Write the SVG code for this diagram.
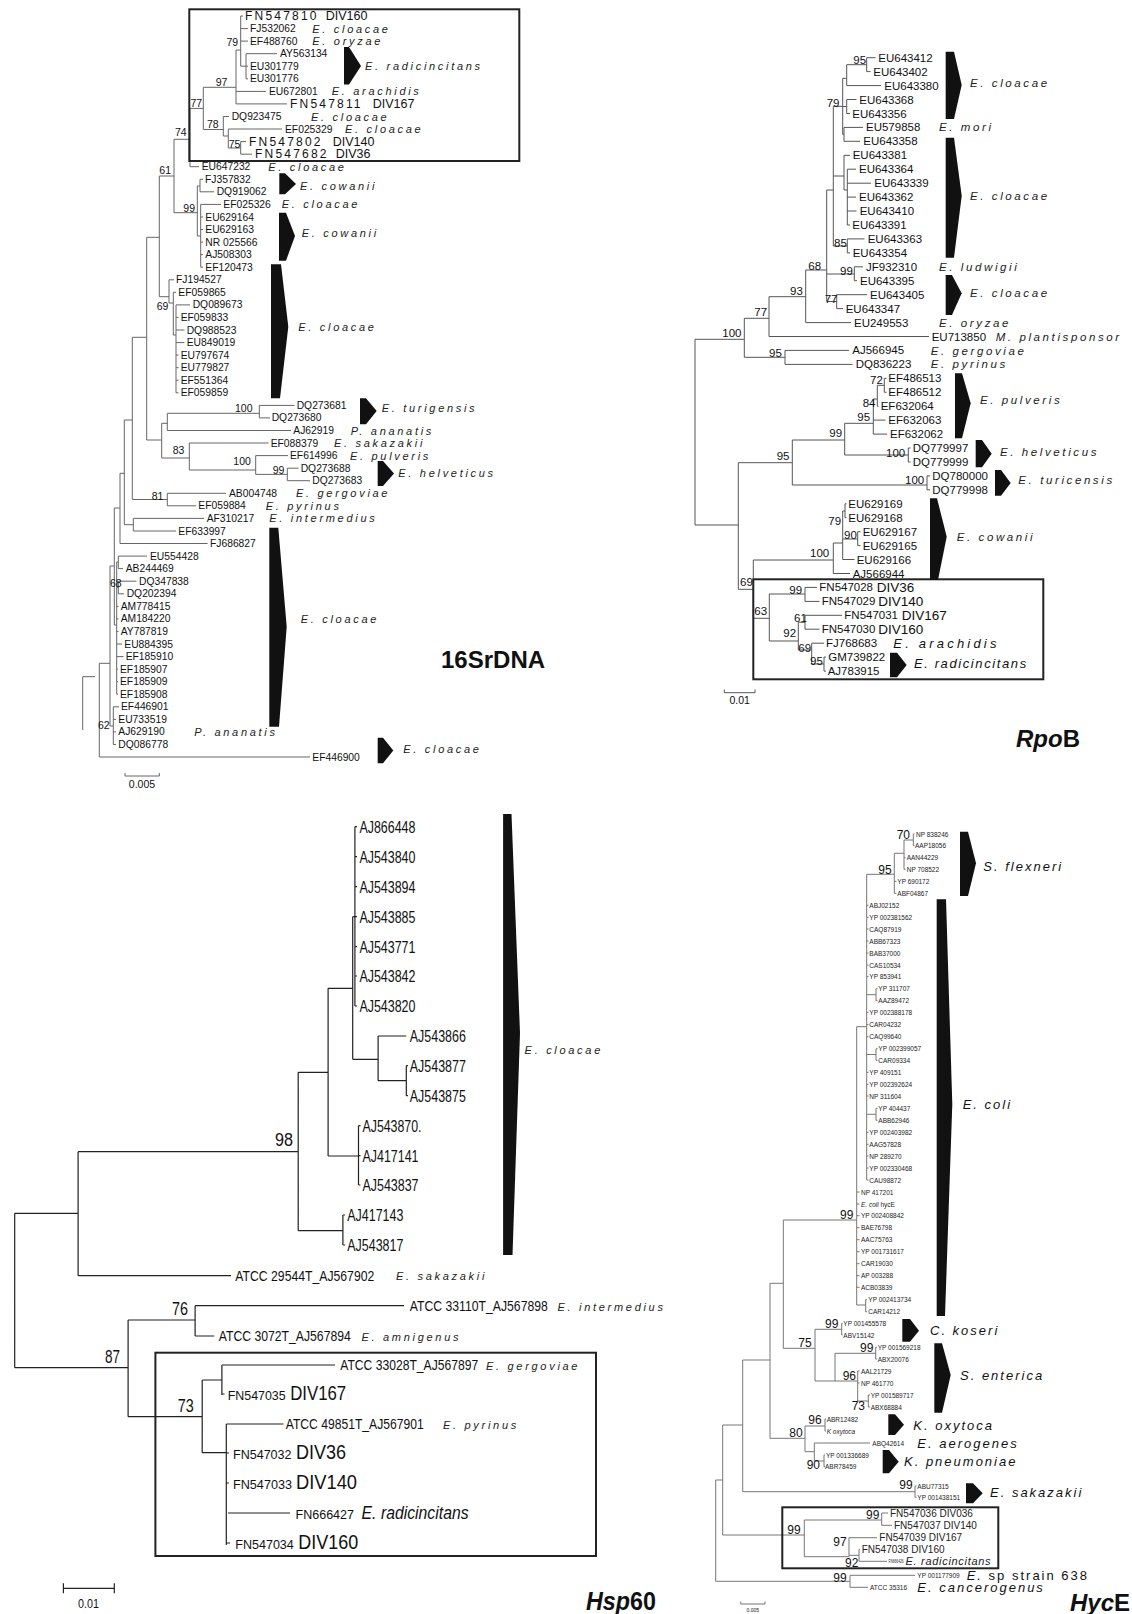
<svg xmlns="http://www.w3.org/2000/svg" width="1132" height="1614" viewBox="0 0 1132 1614">
<style>
text{font-family:"Liberation Sans",Arial,sans-serif;fill:#111}
.c{dominant-baseline:central}
.s16{font-size:10.3px}
.fn{font-size:12px;letter-spacing:2.2px}
.dv{font-size:12.5px}
.sp{font-size:11px;font-style:italic;letter-spacing:2.7px;fill:#222}
.bs{font-size:10.5px}
.sr{font-size:11.5px}
.spr{font-size:11.5px;font-style:italic;letter-spacing:2.6px;fill:#222}
.dvr{font-size:13.5px}
.h{font-size:16px}
.h15{font-size:15px}
.h13{font-size:13px}
.h21{font-size:21px}
.hb{font-size:18px}
.hx{font-size:6.5px;fill:#222}
.spx{font-size:13px;font-style:italic;letter-spacing:2px}
.bx{font-size:12px}
.dx{font-size:10px;fill:#222}
.title{font-size:24px;font-weight:bold}
.t1{fill:none;stroke:#666;stroke-width:1}
.t2{fill:none;stroke:#555;stroke-width:1}
.t3{fill:none;stroke:#222;stroke-width:1.2}
.t4{fill:none;stroke:#777;stroke-width:1}
.box{fill:none;stroke:#222;stroke-width:2}
.w{fill:#111}
</style>

<!-- ================= CONNECTORS ================= -->
<g id="connectors">
<path id="c-16s" class="t1" d="M240.7,16V66.2M240.7,16H243M240.7,28.6H248M240.7,41.1H248
M240.7,66.2H246M246,53.7V78.8M246,53.7H277M246,66.2H248M246,78.8H248
M236,50H240.7M236,50V103.9M236,91.4H266M236,103.9H287
M203.3,87.3V129.5M203.3,87.3H236
M203.3,129.5H223.3M223.3,116.5V136M223.3,116.5H229
M223.3,136H228.3M228.3,129V148M228.3,129H282
M228.3,148H240.7M240.7,141.6V154.2M240.7,141.6H246M240.7,154.2H252
M190,108.4V166.7M190,108.4H203.3M190,166.7H199
M174,139.3V212.7M174,139.3H190
M174,212.7H197.3M197.3,186V236
M197.3,186H200M200,179.3V191.8M200,179.3H203M200,191.8H214
M197.3,236H200.7M200.7,204.4V267.2M200.7,204.4H221M200.7,217H203M200.7,229.5H203M200.7,242.1H203M200.7,254.6H203M200.7,267.2H203
M159.3,176V296.7M159.3,176H174
M159.3,296.7H169M169,279.8V303M169,279.8H174
M169,303H173.3M173.3,292.3V335M173.3,292.3H176
M173.3,335H176M176,304.9V392.8M176,304.9H190M176,317.4H178.5M176,330H184.5M176,342.6H184.5M176,355.1H178.5M176,367.7H178.5M176,380.2H178.5M176,392.8H178.5
M146.7,237.3V440M146.7,237.3H159.3
M146.7,440H161.7M161.7,423.3V458
M161.7,423.3H167.3M167.3,413.3V430.5M167.3,430.5H291
M167.3,413.3H259.3M259.3,405.4V417.9M259.3,405.4H294.5M259.3,417.9H270
M161.7,458H189.3M189.3,443V470M189.3,443H268.5
M189.3,470H255.7M255.7,455.6V474.4M255.7,455.6H288
M255.7,474.4H287.3M287.3,468.2V480.7M287.3,468.2H298.5M287.3,480.7H310
M132.3,337.3V499.5M132.3,337.3H146.7
M132.3,499.5H167.3M167.3,493.3V505.8M167.3,493.3H226M167.3,505.8H196
M124.3,420V524.7M124.3,420H132.3
M124.3,524.7H133.3M133.3,518.4V531M133.3,518.4H204M133.3,531H176
M120,473.3V543.5M120,473.3H124.3M120,543.5H207.5
M114.3,508V625M114.3,508H120
M114.3,625H116.7M116.7,562V694.2
M116.7,562H118.3M118.3,556.1V568.6M118.3,556.1H147M118.3,568.6H123
M116.7,587.5H118.3M118.3,581.2V593.8M118.3,581.2H136.5M118.3,593.8H124
M116.7,606.3H118.5M116.7,618.9H118.5M116.7,631.4H118.5M116.7,644H122M116.7,656.6H123.5M116.7,669.1H118M116.7,681.7H118M116.7,694.2H118
M110,566V726M110,566H114.3
M110,726H113.3M113.3,706.8V744.5M113.3,706.8H119M113.3,719.4H116M113.3,731.9H116M113.3,744.5H116
M99.3,663.3V757M99.3,663.3H110M99.3,757H310
M95,676.7H82.7V730"/>

<path id="c-rpob" class="t2" d="M695,339.3V525M695,339.3H744.3M695,525H738.3
M744.3,318.3V357.3M744.3,318.3H769M744.3,357.3H785
M769,296.7V336.5M769,296.7H805.7M769,336.5H929
M805.7,270V322.6M805.7,270H826.7M805.7,322.6H851
M826.7,190V301.5M826.7,190H833.3M826.7,274H854.3M826.7,301.5H836.7
M854.3,266.8V280.7M854.3,266.8H863M854.3,280.7H857
M836.7,294.7V308.6M836.7,294.7H867M836.7,308.6H843
M833.3,106.3V246M833.3,106.3H842.7M833.3,176H844M833.3,246H847.3
M842.7,78.3V134.3M842.7,78.3H846.7M842.7,106.5H846.7M842.7,134.3H844
M846.7,64.7V85.6M846.7,64.7H866.7M846.7,85.6H881
M866.7,57.7V71.6M866.7,57.7H875.5M866.7,71.6H870.5
M846.7,99.5V113.5M846.7,99.5H856.5M846.7,113.5H850
M844,127.4V141.3M844,127.4H863M844,141.3H860
M844,155.3V190M844,155.3H850M844,190H847.3
M847.3,169.2V225M847.3,169.2H856M847.3,183.2H871M847.3,197.1H856M847.3,211H856.5M847.3,225H850
M847.3,238.9V252.9M847.3,238.9H864.5M847.3,252.9H850
M785,350.4V364.4M785,350.4H849M785,364.4H852.5
M738.3,462.7V589.3M738.3,462.7H792.3M738.3,589.3H753.3
M792.3,440V485M792.3,440H844.7M792.3,485H927
M844.7,423.3V455M844.7,423.3H873.3M844.7,455H908.3
M873.3,399V434.1M873.3,399H877.3M873.3,420.1H885.5M873.3,434.1H887
M877.3,385.3V406.2M877.3,385.3H884.3M877.3,406.2H878.5
M884.3,378.3V392.3M884.3,378.3H886.5M884.3,392.3H886.5
M908.3,448V462M908.3,448H910.5M908.3,462H910.5
M927,475.9V489.8M927,475.9H930M927,489.8H930
M753.3,560V618.3M753.3,560H833.3M753.3,618.3H769.3
M833.3,543V573.5M833.3,543H842.7M833.3,573.5H850
M842.7,511V559.5M842.7,511H845M842.7,539H857.7M842.7,559.5H854.5
M845,503.8V517.7M845,503.8H846.5M845,517.7H846.5
M857.7,531.7V545.6M857.7,531.7H860.5M857.7,545.6H860.5
M769.3,594V641M769.3,594H805M769.3,641H798.3
M805,587.4V601.4M805,587.4H817M805,601.4H819.5
M798.3,622.3V650M798.3,622.3H805M798.3,650H811.7
M805,615.3V629.2M805,615.3H842M805,629.2H819.5
M811.7,643.2V664M811.7,643.2H824M811.7,664H824
M824,657.1V671.1M824,657.1H826M824,671.1H826"/>

<path id="c-hsp60" class="t3" d="M14.7,1213.3V1367.7M14.7,1213.3H78.1M14.7,1367.7H128.1
M78.1,1151.7V1275.7M78.1,1151.7H298.2M78.1,1275.7H231
M298.2,1072.3V1230.7M298.2,1072.3H328.1M298.2,1230.7H342.9
M328.1,988.3V1156M328.1,988.3H352.7M328.1,1156H358.5
M352.7,916.7V1059.3M352.7,916.7H354.9M352.7,1059.3H378.1
M354.9,826.7V1006M354.9,826.7H357M354.9,856.7H357M354.9,886.7H357M354.9,916.7H357M354.9,946.7H357M354.9,976H357M354.9,1006H357
M378.1,1036V1080.7M378.1,1036H406.3M378.1,1080.7H406.3
M406.3,1065.7V1095.7M406.3,1065.7H408M406.3,1095.7H408
M358.5,1125.7V1185M358.5,1125.7H360.5M358.5,1155.7H360.5M358.5,1185H360.5
M342.9,1215V1245M342.9,1215H345M342.9,1245H345
M128.1,1320V1416.7M128.1,1320H195.1M128.1,1416.7H202.2
M195.1,1305.7V1336M195.1,1305.7H404M195.1,1336H214.3
M202.2,1380V1452.7M202.2,1380H221.9M202.2,1452.7H226.3
M221.9,1365V1395M221.9,1365H335M221.9,1394H224.5
M226.3,1424V1545M226.3,1424H283.5M226.3,1453H229M226.3,1483H229M228,1513H290M226.3,1543H230"/>

<path id="c-hyce" class="t4" d="M715.7,1480V1581.3M715.7,1480H722.7M715.7,1581.3H850
M850,1575.3V1587.3M850,1575.3H915M850,1587.3H868
M722.7,1425V1535M722.7,1425H742.7M722.7,1535H804.3
M742.7,1360V1491.7M742.7,1360H770M742.7,1491.7H915
M915,1486V1497.3M915,1486H916.5M915,1497.3H916.5
M770,1283.3V1438.3M770,1283.3H783.3M770,1438.3H805
M783.3,1220V1348.3M783.3,1220H856.7M783.3,1348.3H815
M856.7,1026.7V1305M856.7,1026.7H866.7M856.7,1192H859.5M856.7,1204H859.5M856.7,1215.7H859.5M856.7,1227.7H859.5M856.7,1239.7H859.5M856.7,1251.7H859.5M856.7,1263.7H859.5M856.7,1275.7H859.5M856.7,1287.3H859.5M856.7,1305H865.7
M865.7,1299.7V1311.7M865.7,1299.7H867M865.7,1311.7H867
M866.7,874.3V1180M866.7,874.3H894.3
M866.7,905.3H868.5M866.7,917.3H868.5M866.7,929H868.5M866.7,941H868.5M866.7,953H868.5M866.7,965H868.5M866.7,976.7H868.5
M866.7,994.7H876M876,988.7V1000.7M876,988.7H877.5M876,1000.7H877.5
M866.7,1012.3H868.5M866.7,1024.7H868.5M866.7,1036.7H868.5
M866.7,1054.5H876M876,1048.7V1060.3M876,1048.7H877.5M876,1060.3H877.5
M866.7,1072.3H868.5M866.7,1084.3H868.5M866.7,1096H868.5
M866.7,1114.3H876M876,1108.3V1120.3M876,1108.3H877.5M876,1120.3H877.5
M866.7,1132.3H868.5M866.7,1144.3H868.5M866.7,1156H868.5M866.7,1168H868.5M866.7,1180H868.5
M894.3,853.3V893.3M894.3,853.3H904M894.3,881.3H896.5M894.3,893.3H896.5
M904,840V869.3M904,840H913.3M904,857.7H905.5M904,869.3H905.5
M913.3,834V845.7M913.3,834H914.5M913.3,845.7H914.5
M815,1329.3V1381M815,1329.3H841.7M815,1381H857.7
M841.7,1323.3V1335M841.7,1323.3H842.5M841.7,1335H842.5
M835,1353.3V1381M835,1353.3H875.7
M875.7,1347.3V1359M875.7,1347.3H877M875.7,1359H877
M857.7,1371V1401M857.7,1371H859.5M857.7,1383H859.5M857.7,1401H868.3
M868.3,1395V1407M868.3,1395H870M868.3,1407H870
M805,1426V1451.7M805,1426H825M805,1451.7H814.3
M825,1419V1431M825,1419H826M825,1431H826
M814.3,1443V1461M814.3,1443H870M814.3,1461H824
M824,1455V1466.7M824,1455H825M824,1466.7H825
M804.3,1520V1556.7M804.3,1520H881.7M804.3,1556.7H849
M881.7,1513V1525.3M881.7,1513H888M881.7,1525.3H892
M849,1537.7V1556.7M849,1537.7H877M849,1555.3H859
M859,1549.3V1561.3M859,1549.3H860M859,1561.3H887"/>
</g>

<!-- ================= 16S rDNA ================= -->
<g id="tree-16s">
<rect id="box-16s" class="box" x="189.3" y="9.3" width="330" height="151.7"/>
<g id="wedges-16s" class="w">
<path d="M344,47L349,47L361,66L349,84.5L344,84.5Z"/>
<path d="M279.3,173.3L285,173.3L296,184L285,194.3L279.3,194.3Z"/>
<path d="M279,212.7L286,212.7L295,236L286,260.7L279,260.7Z"/>
<path d="M271,264.3L281,264.3L288.3,326.7L280,398.3L271,398.3Z"/>
<path d="M360,398.3L366,398.3L376.7,411L366,424.3L360,424.3Z"/>
<path d="M377.7,461L383,461L394,473.5L383,486L377.7,486Z"/>
<path d="M269.3,527.7L278.3,527.7L286.7,626.7L279,726.7L269.3,726.7Z"/>
<path d="M377.7,737.7L383,737.7L393.3,750.5L383,763.3L377.7,763.3Z"/>
</g>
<g id="n16-0"><text class="fn c" x="245" y="16">FN547810</text><text class="dv c" x="325.7" y="16">DIV160</text></g>
<g id="n16-1"><text class="s16 c" x="250" y="28.6">FJ532062</text><text class="sp c" x="312.3" y="28.6">E. cloacae</text></g>
<g id="n16-2"><text class="s16 c" x="250" y="41.1">EF488760</text><text class="sp c" x="312.3" y="41.1">E. oryzae</text></g>
<g id="n16-3"><text class="s16 c" x="280" y="53.7">AY563134</text></g>
<g id="n16-4"><text class="s16 c" x="250" y="66.2">EU301779</text></g>
<g id="n16-5"><text class="s16 c" x="250" y="78.8">EU301776</text></g>
<g id="n16-6"><text class="s16 c" x="269" y="91.4">EU672801</text><text class="sp c" x="331.7" y="91.4">E. arachidis</text></g>
<g id="n16-7"><text class="fn c" x="290" y="103.9">FN547811</text><text class="dv c" x="372.7" y="103.9">DIV167</text></g>
<g id="n16-8"><text class="s16 c" x="231.7" y="116.5">DQ923475</text><text class="sp c" x="311" y="116.5">E. cloacae</text></g>
<g id="n16-9"><text class="s16 c" x="285" y="129">EF025329</text><text class="sp c" x="345" y="129">E. cloacae</text></g>
<g id="n16-10"><text class="fn c" x="249" y="141.6">FN547802</text><text class="dv c" x="332.7" y="141.6">DIV140</text></g>
<g id="n16-11"><text class="fn c" x="255" y="154.2">FN547682</text><text class="dv c" x="335.7" y="154.2">DIV36</text></g>
<g id="n16-12"><text class="s16 c" x="201.7" y="166.7">EU647232</text><text class="sp c" x="268.3" y="166.7">E. cloacae</text></g>
<g id="n16-13"><text class="s16 c" x="205" y="179.3">FJ357832</text></g>
<g id="n16-14"><text class="s16 c" x="216.7" y="191.8">DQ919062</text></g>
<g id="n16-15"><text class="s16 c" x="223.3" y="204.4">EF025326</text><text class="sp c" x="281.7" y="204.4">E. cloacae</text></g>
<g id="n16-16"><text class="s16 c" x="205.3" y="217">EU629164</text></g>
<g id="n16-17"><text class="s16 c" x="205.3" y="229.5">EU629163</text></g>
<g id="n16-18"><text class="s16 c" x="205.3" y="242.1">NR 025566</text></g>
<g id="n16-19"><text class="s16 c" x="205.3" y="254.6">AJ508303</text></g>
<g id="n16-20"><text class="s16 c" x="205.3" y="267.2">EF120473</text></g>
<g id="n16-21"><text class="s16 c" x="176" y="279.8">FJ194527</text></g>
<g id="n16-22"><text class="s16 c" x="178.3" y="292.3">EF059865</text></g>
<g id="n16-23"><text class="s16 c" x="192.7" y="304.9">DQ089673</text></g>
<g id="n16-24"><text class="s16 c" x="180.7" y="317.4">EF059833</text></g>
<g id="n16-25"><text class="s16 c" x="186.7" y="330">DQ988523</text></g>
<g id="n16-26"><text class="s16 c" x="186.7" y="342.6">EU849019</text></g>
<g id="n16-27"><text class="s16 c" x="180.7" y="355.1">EU797674</text></g>
<g id="n16-28"><text class="s16 c" x="180.7" y="367.7">EU779827</text></g>
<g id="n16-29"><text class="s16 c" x="180.7" y="380.2">EF551364</text></g>
<g id="n16-30"><text class="s16 c" x="180.7" y="392.8">EF059859</text></g>
<g id="n16-31"><text class="s16 c" x="296.7" y="405.4">DQ273681</text></g>
<g id="n16-32"><text class="s16 c" x="271.7" y="417.9">DQ273680</text></g>
<g id="n16-33"><text class="s16 c" x="293.3" y="430.5">AJ62919</text><text class="sp c" x="350.7" y="430.5">P. ananatis</text></g>
<g id="n16-34"><text class="s16 c" x="270.7" y="443">EF088379</text><text class="sp c" x="334" y="443">E. sakazakii</text></g>
<g id="n16-35"><text class="s16 c" x="290" y="455.6">EF614996</text><text class="sp c" x="350" y="455.6">E. pulveris</text></g>
<g id="n16-36"><text class="s16 c" x="300.7" y="468.2">DQ273688</text></g>
<g id="n16-37"><text class="s16 c" x="312.3" y="480.7">DQ273683</text></g>
<g id="n16-38"><text class="s16 c" x="229" y="493.3">AB004748</text><text class="sp c" x="296" y="493.3">E. gergoviae</text></g>
<g id="n16-39"><text class="s16 c" x="198.3" y="505.8">EF059884</text><text class="sp c" x="265.7" y="505.8">E. pyrinus</text></g>
<g id="n16-40"><text class="s16 c" x="206.7" y="518.4">AF310217</text><text class="sp c" x="269.3" y="518.4">E. intermedius</text></g>
<g id="n16-41"><text class="s16 c" x="178.3" y="531">EF633997</text></g>
<g id="n16-42"><text class="s16 c" x="210" y="543.5">FJ686827</text></g>
<g id="n16-43"><text class="s16 c" x="150" y="556.1">EU554428</text></g>
<g id="n16-44"><text class="s16 c" x="125.7" y="568.6">AB244469</text></g>
<g id="n16-45"><text class="s16 c" x="139" y="581.2">DQ347838</text></g>
<g id="n16-46"><text class="s16 c" x="126.7" y="593.8">DQ202394</text></g>
<g id="n16-47"><text class="s16 c" x="120.7" y="606.3">AM778415</text></g>
<g id="n16-48"><text class="s16 c" x="120.7" y="618.9">AM184220</text></g>
<g id="n16-49"><text class="s16 c" x="120.7" y="631.4">AY787819</text></g>
<g id="n16-50"><text class="s16 c" x="124.3" y="644">EU884395</text></g>
<g id="n16-51"><text class="s16 c" x="125.7" y="656.6">EF185910</text></g>
<g id="n16-52"><text class="s16 c" x="120" y="669.1">EF185907</text></g>
<g id="n16-53"><text class="s16 c" x="120" y="681.7">EF185909</text></g>
<g id="n16-54"><text class="s16 c" x="120" y="694.2">EF185908</text></g>
<g id="n16-55"><text class="s16 c" x="121" y="706.8">EF446901</text></g>
<g id="n16-56"><text class="s16 c" x="118.3" y="719.4">EU733519</text></g>
<g id="n16-57"><text class="s16 c" x="118.3" y="731.9">AJ629190</text><text class="sp c" x="194.3" y="731.9">P. ananatis</text></g>
<g id="n16-58"><text class="s16 c" x="118.3" y="744.5">DQ086778</text></g>
<g id="n16-59"><text class="s16 c" x="312.3" y="757">EF446900</text><text class="sp c" x="403.3" y="749">E. cloacae</text></g>
<g id="labels-16s">
<text class="sp c" x="365" y="66">E. radicincitans</text>
<text class="sp c" x="300" y="185.5">E. cowanii</text>
<text class="sp c" x="301.7" y="233.3">E. cowanii</text>
<text class="sp c" x="298.3" y="326.7">E. cloacae</text>
<text class="sp c" x="381.7" y="407.7">E. turigensis</text>
<text class="sp c" x="398.3" y="472.7">E. helveticus</text>
<text class="sp c" x="300.7" y="619.3">E. cloacae</text>
</g>
<g id="boot-16s">
<text class="bs" x="226.5" y="45.5">79</text>
<text class="bs" x="215.7" y="86">97</text>
<text class="bs" x="190.5" y="107">77</text>
<text class="bs" x="207" y="128">78</text>
<text class="bs" x="228.7" y="148">75</text>
<text class="bs" x="175" y="136">74</text>
<text class="bs" x="159.3" y="174">61</text>
<text class="bs" x="183.3" y="211.5">99</text>
<text class="bs" x="156.7" y="310">69</text>
<text class="bs" x="235" y="411.7">100</text>
<text class="bs" x="172.7" y="454">83</text>
<text class="bs" x="233.3" y="465">100</text>
<text class="bs" x="272.7" y="474">99</text>
<text class="bs" x="151.7" y="500">81</text>
<text class="bs" x="110" y="587">68</text>
<text class="bs" x="98" y="729">62</text>
</g>
<g id="scale-16s">
<path class="t1" d="M125,773V776H159.3V773"/>
<text class="bs" x="142" y="788.3" text-anchor="middle">0.005</text>
</g>
<text id="title-16s" class="title" x="441" y="667.7">16SrDNA</text>
</g>

<!-- ================= RpoB ================= -->
<g id="tree-rpob">
<rect id="box-rpob" class="box" x="753.3" y="579.3" width="290" height="100"/>
<g id="wedges-rpob" class="w">
<path d="M945.7,51.7L954,51.7L961.7,85L954,119L945.7,119Z"/>
<path d="M945.7,137.7L954,137.7L961.7,195.7L954,257.7L945.7,257.7Z"/>
<path d="M945.7,275L952,275L961.7,293.3L952,315L945.7,315Z"/>
<path d="M955,373.3L962,373.3L970.7,403.3L962,438.3L955,438.3Z"/>
<path d="M975.7,440L982,440L991.7,453.7L982,467.3L975.7,467.3Z"/>
<path d="M995,470L1001,470L1010.7,483L1001,495.7L995,495.7Z"/>
<path d="M930,498.3L937,498.3L946.7,536.7L938,580L930,580Z"/>
<path d="M890,652.7L897,652.7L906.7,665L897,677.3L890,677.3Z"/>
</g>
<g id="nr-0"><text class="sr c" x="878.3" y="57.7">EU643412</text></g>
<g id="nr-1"><text class="sr c" x="873.3" y="71.6">EU643402</text></g>
<g id="nr-2"><text class="sr c" x="884.3" y="85.6">EU643380</text></g>
<g id="nr-3"><text class="sr c" x="859.3" y="99.5">EU643368</text></g>
<g id="nr-4"><text class="sr c" x="852.3" y="113.5">EU643356</text></g>
<g id="nr-5"><text class="sr c" x="866" y="127.4">EU579858</text><text class="spr c" x="939" y="127.4">E. mori</text></g>
<g id="nr-6"><text class="sr c" x="863.3" y="141.3">EU643358</text></g>
<g id="nr-7"><text class="sr c" x="852.7" y="155.3">EU643381</text></g>
<g id="nr-8"><text class="sr c" x="859" y="169.2">EU643364</text></g>
<g id="nr-9"><text class="sr c" x="874.3" y="183.2">EU643339</text></g>
<g id="nr-10"><text class="sr c" x="859" y="197.1">EU643362</text></g>
<g id="nr-11"><text class="sr c" x="859.7" y="211">EU643410</text></g>
<g id="nr-12"><text class="sr c" x="852.3" y="225">EU643391</text></g>
<g id="nr-13"><text class="sr c" x="867.7" y="238.9">EU643363</text></g>
<g id="nr-14"><text class="sr c" x="852.7" y="252.9">EU643354</text></g>
<g id="nr-15"><text class="sr c" x="866" y="266.8">JF932310</text><text class="spr c" x="939" y="266.8">E. ludwigii</text></g>
<g id="nr-16"><text class="sr c" x="860" y="280.7">EU643395</text></g>
<g id="nr-17"><text class="sr c" x="870" y="294.7">EU643405</text></g>
<g id="nr-18"><text class="sr c" x="845.7" y="308.6">EU643347</text></g>
<g id="nr-19"><text class="sr c" x="854" y="322.6">EU249553</text><text class="spr c" x="939" y="323.3">E. oryzae</text></g>
<g id="nr-20"><text class="sr c" x="931.7" y="336.5">EU713850</text><text class="spr c" x="995.7" y="337.3">M. plantisponsor</text></g>
<g id="nr-21"><text class="sr c" x="852.3" y="350.4">AJ566945</text><text class="spr c" x="930.7" y="351">E. gergoviae</text></g>
<g id="nr-22"><text class="sr c" x="855.7" y="364.4">DQ836223</text><text class="spr c" x="930.7" y="364.4">E. pyrinus</text></g>
<g id="nr-23"><text class="sr c" x="888.3" y="378.3">EF486513</text></g>
<g id="nr-24"><text class="sr c" x="888.3" y="392.3">EF486512</text></g>
<g id="nr-25"><text class="sr c" x="880.7" y="406.2">EF632064</text></g>
<g id="nr-26"><text class="sr c" x="888.3" y="420.1">EF632063</text></g>
<g id="nr-27"><text class="sr c" x="890" y="434.1">EF632062</text></g>
<g id="nr-28"><text class="sr c" x="912.7" y="448">DQ779997</text></g>
<g id="nr-29"><text class="sr c" x="912.7" y="462">DQ779999</text></g>
<g id="nr-30"><text class="sr c" x="932.3" y="475.9">DQ780000</text></g>
<g id="nr-31"><text class="sr c" x="932.3" y="489.8">DQ779998</text></g>
<g id="nr-32"><text class="sr c" x="848.3" y="503.8">EU629169</text></g>
<g id="nr-33"><text class="sr c" x="848.3" y="517.7">EU629168</text></g>
<g id="nr-34"><text class="sr c" x="862.7" y="531.7">EU629167</text></g>
<g id="nr-35"><text class="sr c" x="862.7" y="545.6">EU629165</text></g>
<g id="nr-36"><text class="sr c" x="856.7" y="559.5">EU629166</text></g>
<g id="nr-37"><text class="sr c" x="852.7" y="573.5">AJ566944</text></g>
<g id="nr-38"><text class="sr c" x="819.3" y="587.4">FN547028</text><text class="dvr c" x="876.7" y="587.4">DIV36</text></g>
<g id="nr-39"><text class="sr c" x="821.7" y="601.4">FN547029</text><text class="dvr c" x="878.3" y="601.4">DIV140</text></g>
<g id="nr-40"><text class="sr c" x="844.3" y="615.3">FN547031</text><text class="dvr c" x="901.7" y="615.3">DIV167</text></g>
<g id="nr-41"><text class="sr c" x="821.7" y="629.2">FN547030</text><text class="dvr c" x="878.3" y="629.2">DIV160</text></g>
<g id="nr-42"><text class="sr c" x="826" y="643.2">FJ768683</text><text class="c" x="893.3" y="643.3" style="font-size:13px;font-style:italic;letter-spacing:3.2px">E. arachidis</text></g>
<g id="nr-43"><text class="sr c" x="828.3" y="657.1">GM739822</text></g>
<g id="nr-44"><text class="sr c" x="827.7" y="671.1">AJ783915</text></g>
<g id="labels-rpob">
<text class="spr c" x="970" y="83.3">E. cloacae</text>
<text class="spr c" x="970" y="195.7">E. cloacae</text>
<text class="spr c" x="970" y="293.3">E. cloacae</text>
<text class="spr c" x="980" y="400">E. pulveris</text>
<text class="spr c" x="1000" y="452.3">E. helveticus</text>
<text class="spr c" x="1018.3" y="480">E. turicensis</text>
<text class="spr c" x="956.7" y="536.7">E. cowanii</text>
<text class="c" x="914" y="663.3" style="font-size:13px;font-style:italic;letter-spacing:1.6px">E. radicincitans</text>
</g>
<g id="boot-rpob">
<text class="sr" x="853.3" y="63.5">95</text>
<text class="sr" x="826.7" y="107">79</text>
<text class="sr" x="834" y="247">85</text>
<text class="sr" x="840" y="275">99</text>
<text class="sr" x="808.3" y="269.5">68</text>
<text class="sr" x="824.7" y="302.5">77</text>
<text class="sr" x="790" y="295">93</text>
<text class="sr" x="754.3" y="316">77</text>
<text class="sr" x="722.3" y="336.5">100</text>
<text class="sr" x="769" y="357">95</text>
<text class="sr" x="870" y="384">72</text>
<text class="sr" x="862.7" y="407">84</text>
<text class="sr" x="857.3" y="420.5">95</text>
<text class="sr" x="829.3" y="437">99</text>
<text class="sr" x="776.7" y="460">95</text>
<text class="sr" x="886" y="456.5">100</text>
<text class="sr" x="905" y="484">100</text>
<text class="sr" x="828.3" y="525">79</text>
<text class="sr" x="844" y="538.5">90</text>
<text class="sr" x="810" y="557">100</text>
<text class="sr" x="740" y="586">69</text>
<text class="sr" x="789.3" y="594">99</text>
<text class="sr" x="754.3" y="615">63</text>
<text class="sr" x="794" y="621.5">61</text>
<text class="sr" x="783.3" y="637">92</text>
<text class="sr" x="798.3" y="651.5">69</text>
<text class="sr" x="810" y="665">95</text>
</g>
<g id="scale-rpob">
<path class="t2" d="M724.3,689.5V692.7H755V689.5"/>
<text class="bs" x="739.7" y="704" text-anchor="middle">0.01</text>
</g>
<text id="title-rpob" class="title" x="1016" y="747"><tspan font-style="italic">Rpo</tspan>B</text>
</g>

<!-- ================= Hsp60 ================= -->
<g id="tree-hsp60">
<rect id="box-hsp60" class="box" x="155.4" y="1352.7" width="440.6" height="203.3"/>
<path id="wedge-hsp60" class="w" d="M503.1,814L511.5,814L520,1033L512.5,1255L503.1,1255Z"/>
<g id="nh-0"><text class="h" x="359.4" y="833" textLength="56" lengthAdjust="spacingAndGlyphs">AJ866448</text></g>
<g id="nh-1"><text class="h" x="359.4" y="863" textLength="56" lengthAdjust="spacingAndGlyphs">AJ543840</text></g>
<g id="nh-2"><text class="h" x="359.4" y="893" textLength="56" lengthAdjust="spacingAndGlyphs">AJ543894</text></g>
<g id="nh-3"><text class="h" x="359.4" y="923" textLength="56" lengthAdjust="spacingAndGlyphs">AJ543885</text></g>
<g id="nh-4"><text class="h" x="359.4" y="953" textLength="56" lengthAdjust="spacingAndGlyphs">AJ543771</text></g>
<g id="nh-5"><text class="h" x="359.4" y="982.3" textLength="56" lengthAdjust="spacingAndGlyphs">AJ543842</text></g>
<g id="nh-6"><text class="h" x="359.4" y="1012.3" textLength="56" lengthAdjust="spacingAndGlyphs">AJ543820</text></g>
<g id="nh-7"><text class="h" x="409.8" y="1042.3" textLength="56" lengthAdjust="spacingAndGlyphs">AJ543866</text></g>
<g id="nh-8"><text class="h" x="409.8" y="1072" textLength="56" lengthAdjust="spacingAndGlyphs">AJ543877</text></g>
<g id="nh-9"><text class="h" x="409.8" y="1102" textLength="56" lengthAdjust="spacingAndGlyphs">AJ543875</text></g>
<g id="nh-10"><text class="h" x="362.5" y="1132" textLength="59" lengthAdjust="spacingAndGlyphs">AJ543870.</text></g>
<g id="nh-11"><text class="h" x="362.5" y="1162" textLength="56" lengthAdjust="spacingAndGlyphs">AJ417141</text></g>
<g id="nh-12"><text class="h" x="362.5" y="1191.3" textLength="56" lengthAdjust="spacingAndGlyphs">AJ543837</text></g>
<g id="nh-13"><text class="h" x="347.3" y="1221.3" textLength="56" lengthAdjust="spacingAndGlyphs">AJ417143</text></g>
<g id="nh-14"><text class="h" x="347.3" y="1251.3" textLength="56" lengthAdjust="spacingAndGlyphs">AJ543817</text></g>
<g id="nh-15"><text class="h15" x="235.3" y="1280.7" textLength="139" lengthAdjust="spacingAndGlyphs">ATCC 29544T_AJ567902</text><text class="sp c" x="396" y="1276">E. sakazakii</text></g>
<g id="nh-16"><text class="h15" x="409.8" y="1310.7" textLength="138" lengthAdjust="spacingAndGlyphs">ATCC 33110T_AJ567898</text><text class="sp c" x="557.5" y="1306.5">E. intermedius</text></g>
<g id="nh-17"><text class="h15" x="218.8" y="1341" textLength="132" lengthAdjust="spacingAndGlyphs">ATCC 3072T_AJ567894</text><text class="sp c" x="361.5" y="1337">E. amnigenus</text></g>
<g id="nh-18"><text class="h15" x="340.2" y="1370" textLength="138" lengthAdjust="spacingAndGlyphs">ATCC 33028T_AJ567897</text><text class="sp c" x="486" y="1366">E. gergoviae</text></g>
<g id="nh-19"><text class="h13" x="227.7" y="1400" textLength="58" lengthAdjust="spacingAndGlyphs">FN547035</text><text class="h21" x="290.2" y="1400" textLength="56" lengthAdjust="spacingAndGlyphs">DIV167</text></g>
<g id="nh-20"><text class="h15" x="285.7" y="1429" textLength="138" lengthAdjust="spacingAndGlyphs">ATCC 49851T_AJ567901</text><text class="sp c" x="443" y="1425">E. pyrinus</text></g>
<g id="nh-21"><text class="h13" x="233" y="1459" textLength="58.5" lengthAdjust="spacingAndGlyphs">FN547032</text><text class="h21" x="296" y="1459" textLength="50" lengthAdjust="spacingAndGlyphs">DIV36</text></g>
<g id="nh-22"><text class="h13" x="233" y="1489" textLength="59" lengthAdjust="spacingAndGlyphs">FN547033</text><text class="h21" x="296" y="1489" textLength="61" lengthAdjust="spacingAndGlyphs">DIV140</text></g>
<g id="nh-23"><text class="h13" x="295.5" y="1519" textLength="58.5" lengthAdjust="spacingAndGlyphs">FN666427</text><text x="361.6" y="1519" style="font-size:19px;font-style:italic" textLength="107" lengthAdjust="spacingAndGlyphs">E. radicincitans</text></g>
<g id="nh-24"><text class="h13" x="235.3" y="1549.3" textLength="58.5" lengthAdjust="spacingAndGlyphs">FN547034</text><text class="h21" x="298.2" y="1549.3" textLength="60" lengthAdjust="spacingAndGlyphs">DIV160</text></g>
<text id="lab-hsp-cloacae" class="sp c" x="524.6" y="1050">E. cloacae</text>
<g id="boot-hsp60">
<text class="hb" x="275" y="1146" textLength="18" lengthAdjust="spacingAndGlyphs">98</text>
<text class="hb" x="172" y="1315" textLength="16" lengthAdjust="spacingAndGlyphs">76</text>
<text class="hb" x="105" y="1363" textLength="15" lengthAdjust="spacingAndGlyphs">87</text>
<text class="hb" x="177.7" y="1411.7" textLength="16" lengthAdjust="spacingAndGlyphs">73</text>
</g>
<g id="scale-hsp60">
<path class="t3" d="M63.4,1583.3V1593.3M63.4,1588.3H114.3M114.3,1583.3V1593.3"/>
<text class="h13" x="78" y="1608" textLength="21" lengthAdjust="spacingAndGlyphs">0.01</text>
</g>
<text id="title-hsp60" class="title" x="586" y="1610" style="font-size:26px" textLength="70" lengthAdjust="spacingAndGlyphs"><tspan font-style="italic">Hsp</tspan>60</text>
</g>

<!-- ================= HycE ================= -->
<g id="tree-hyce">
<rect id="box-hyce" class="box" x="782.3" y="1507.3" width="216" height="61"/>
<g id="wedges-hyce" class="w">
<path d="M960,831.7L968,831.7L976,863.3L968,896L960,896Z"/>
<path d="M936.7,899.3L946,899.3L952.3,1104L945,1316L936.7,1316Z"/>
<path d="M902.3,1319L910,1319L919,1330.7L910,1341.7L902.3,1341.7Z"/>
<path d="M934.3,1343.3L942,1343.3L950.7,1375L942,1412.7L934.3,1412.7Z"/>
<path d="M888.3,1414.3L895,1414.3L904,1424.7L895,1435L888.3,1435Z"/>
<path d="M882.7,1450L889,1450L898.7,1461.7L889,1473.3L882.7,1473.3Z"/>
<path d="M966,1483.3L973,1483.3L982.7,1493.3L973,1503.3L966,1503.3Z"/>
</g>
<g id="nx-0"><text class="hx c" x="916" y="834">NP 838246</text></g>
<g id="nx-1"><text class="hx c" x="915" y="845.7">AAP18056</text></g>
<g id="nx-2"><text class="hx c" x="906.7" y="857.7">AAN44229</text></g>
<g id="nx-3"><text class="hx c" x="906.7" y="869.3">NP 708522</text></g>
<g id="nx-4"><text class="hx c" x="897.3" y="881.3">YP 690172</text></g>
<g id="nx-5"><text class="hx c" x="897.3" y="893.3">ABF04867</text></g>
<g id="nx-6"><text class="hx c" x="869.3" y="905.3">ABJ02152</text></g>
<g id="nx-7"><text class="hx c" x="869.3" y="917.3">YP 002381562</text></g>
<g id="nx-8"><text class="hx c" x="869.3" y="929">CAQ87919</text></g>
<g id="nx-9"><text class="hx c" x="869.3" y="941">ABB67323</text></g>
<g id="nx-10"><text class="hx c" x="869.3" y="953">BAB37000</text></g>
<g id="nx-11"><text class="hx c" x="869.3" y="965">CAS10534</text></g>
<g id="nx-12"><text class="hx c" x="869.3" y="976.7">YP 853941</text></g>
<g id="nx-13"><text class="hx c" x="878.3" y="988.7">YP 311707</text></g>
<g id="nx-14"><text class="hx c" x="878.3" y="1000.7">AAZ89472</text></g>
<g id="nx-15"><text class="hx c" x="869.3" y="1012.3">YP 002388178</text></g>
<g id="nx-16"><text class="hx c" x="869.3" y="1024.7">CAR04232</text></g>
<g id="nx-17"><text class="hx c" x="869.3" y="1036.7">CAQ99640</text></g>
<g id="nx-18"><text class="hx c" x="878.3" y="1048.7">YP 002399057</text></g>
<g id="nx-19"><text class="hx c" x="878.3" y="1060.3">CAR09334</text></g>
<g id="nx-20"><text class="hx c" x="869.3" y="1072.3">YP 409151</text></g>
<g id="nx-21"><text class="hx c" x="869.3" y="1084.3">YP 002392624</text></g>
<g id="nx-22"><text class="hx c" x="869.3" y="1096">NP 311604</text></g>
<g id="nx-23"><text class="hx c" x="878.3" y="1108.3">YP 404437</text></g>
<g id="nx-24"><text class="hx c" x="878.3" y="1120.3">ABB62946</text></g>
<g id="nx-25"><text class="hx c" x="869.3" y="1132.3">YP 002403982</text></g>
<g id="nx-26"><text class="hx c" x="869.3" y="1144.3">AAG57828</text></g>
<g id="nx-27"><text class="hx c" x="869.3" y="1156">NP 289270</text></g>
<g id="nx-28"><text class="hx c" x="869.3" y="1168">YP 002330468</text></g>
<g id="nx-29"><text class="hx c" x="869.3" y="1180">CAU98872</text></g>
<g id="nx-30"><text class="hx c" x="861" y="1192">NP 417201</text></g>
<g id="nx-31"><text class="hx c" x="861" y="1204"><tspan font-style="italic">E. coli</tspan> hycE</text></g>
<g id="nx-32"><text class="hx c" x="861" y="1215.7">YP 002408842</text></g>
<g id="nx-33"><text class="hx c" x="861" y="1227.7">BAE76798</text></g>
<g id="nx-34"><text class="hx c" x="861" y="1239.7">AAC75763</text></g>
<g id="nx-35"><text class="hx c" x="861" y="1251.7">YP 001731617</text></g>
<g id="nx-36"><text class="hx c" x="861" y="1263.7">CAR19030</text></g>
<g id="nx-37"><text class="hx c" x="861" y="1275.7">AP 003288</text></g>
<g id="nx-38"><text class="hx c" x="861" y="1287.3">ACB03839</text></g>
<g id="nx-39"><text class="hx c" x="868.3" y="1299.7">YP 002413734</text></g>
<g id="nx-40"><text class="hx c" x="868.3" y="1311.7">CAR14212</text></g>
<g id="nx-41"><text class="hx c" x="843.3" y="1323.5">YP 001455578</text></g>
<g id="nx-42"><text class="hx c" x="843.3" y="1335">ABV15142</text></g>
<g id="nx-43"><text class="hx c" x="877.7" y="1347.3">YP 001569218</text></g>
<g id="nx-44"><text class="hx c" x="877.7" y="1359">ABX20076</text></g>
<g id="nx-45"><text class="hx c" x="861" y="1371">AAL21729</text></g>
<g id="nx-46"><text class="hx c" x="861" y="1383">NP 461770</text></g>
<g id="nx-47"><text class="hx c" x="870.7" y="1395">YP 001589717</text></g>
<g id="nx-48"><text class="hx c" x="870.7" y="1407">ABX68884</text></g>
<g id="nx-49"><text class="hx c" x="826.7" y="1419">ABR12482</text></g>
<g id="nx-50"><text class="hx c" x="826.7" y="1431" font-style="italic">K oxytoca</text></g>
<g id="nx-51"><text class="hx c" x="872.3" y="1443">ABQ42614</text></g>
<g id="nx-52"><text class="hx c" x="826" y="1455">YP 001336689</text></g>
<g id="nx-53"><text class="hx c" x="825" y="1466.7">ABR78459</text></g>
<g id="nx-54"><text class="hx c" x="917.3" y="1486">ABU77315</text></g>
<g id="nx-55"><text class="hx c" x="917.3" y="1497.3">YP 001438151</text></g>
<g id="nx-56"><text class="dx c" x="890" y="1513">FN547036 DIV036</text></g>
<g id="nx-57"><text class="dx c" x="894" y="1525.3">FN547037 DIV140</text></g>
<g id="nx-58"><text class="dx c" x="879.3" y="1537.7">FN547039 DIV167</text></g>
<g id="nx-59"><text class="dx c" x="861.7" y="1549.3">FN547038 DIV160</text></g>
<g id="nx-60"><text class="hx c" x="888.5" y="1561.3" style="font-size:5px" textLength="15" lengthAdjust="spacingAndGlyphs">FN666426</text><text class="c" x="905.5" y="1561.3" style="font-size:11px;font-style:italic;letter-spacing:0.7px;fill:#222">E. radicincitans</text></g>
<g id="nx-61"><text class="hx c" x="917.3" y="1575.3">YP 001177909</text><text class="spx c" x="966.7" y="1575"><tspan>E.</tspan><tspan font-style="normal"> sp strain 638</tspan></text></g>
<g id="nx-62"><text class="hx c" x="870" y="1587.3">ATCC 35316</text><text class="spx c" x="917.3" y="1587">E. cancerogenus</text></g>
<g id="labels-hyce">
<text class="spx c" x="983.3" y="866">S. flexneri</text>
<text class="spx c" x="962.7" y="1104">E. coli</text>
<text class="spx c" x="930" y="1330.7">C. koseri</text>
<text class="spx c" x="960" y="1375">S. enterica</text>
<text class="spx c" x="913.3" y="1425">K. oxytoca</text>
<text class="spx c" x="917.3" y="1443.3">E. aerogenes</text>
<text class="spx c" x="904" y="1461">K. pneumoniae</text>
<text class="spx c" x="990" y="1492.7">E. sakazakii</text>
</g>
<g id="boot-hyce">
<text class="bx" x="896.7" y="838.5">70</text>
<text class="bx" x="878.3" y="873.5">95</text>
<text class="bx" x="840" y="1218.5">99</text>
<text class="bx" x="825" y="1327.5">99</text>
<text class="bx" x="798.3" y="1347">75</text>
<text class="bx" x="860" y="1352">99</text>
<text class="bx" x="842.7" y="1380">96</text>
<text class="bx" x="851.7" y="1410">73</text>
<text class="bx" x="808.3" y="1423.5">96</text>
<text class="bx" x="789.3" y="1437">80</text>
<text class="bx" x="806.7" y="1468.5">90</text>
<text class="bx" x="899.3" y="1488.5">99</text>
<text class="bx" x="866" y="1518.5">99</text>
<text class="bx" x="787.3" y="1533.5">99</text>
<text class="bx" x="833.3" y="1546">97</text>
<text class="bx" x="845" y="1567">92</text>
<text class="bx" x="833.3" y="1582">99</text>
</g>
<g id="scale-hyce">
<path class="t4" d="M740.7,1601.5V1604H765V1601.5"/>
<text x="752.8" y="1612" text-anchor="middle" style="font-size:5px">0.005</text>
</g>
<text id="title-hyce" class="title" x="1070" y="1611"><tspan font-style="italic">Hyc</tspan>E</text>
</g>
</svg>
